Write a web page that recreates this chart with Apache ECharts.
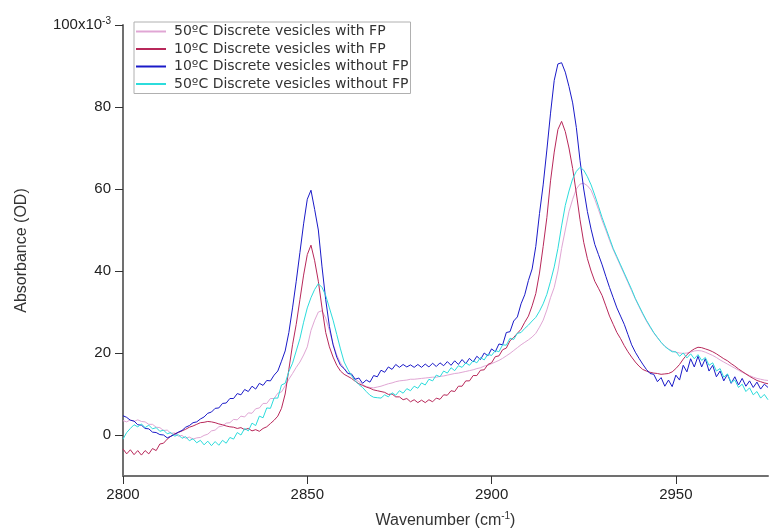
<!DOCTYPE html>
<html><head><meta charset="utf-8">
<script src="https://cdn.jsdelivr.net/npm/echarts@6/dist/echarts.min.js"></script>
<style>html,body{margin:0;padding:0;background:#fff}#c{width:769px;height:529px}</style>
</head><body><div id="c"></div>
<script>
// Wavenumber sampling: 2800 .. 2975 cm-1, 1 cm-1 step
const waveStart = 2800;
const waveStep = 1;

const seriesNames = [
  '50ºC Discrete vesicles with FP',
  '10ºC Discrete vesicles with FP',
  '10ºC Discrete vesicles without FP',
  '50ºC Discrete vesicles without FP'
];

// Absorbance values in units of 10^-3 OD
const pink50With = [
  3.5, 3.2, 3.7, 3.3, 3.7, 3.3, 3.2, 2.6, 2.6, 1.9,
  1.8, 1.1, 1.2, 0.4, 0.5, -0.3, -0.1, -0.8, -0.5, -1.0,
  -0.7, -0.6, -0.1, 0.2, 1.0, 1.2, 2.0, 2.2, 2.9, 3.0,
  3.8, 3.7, 4.6, 4.4, 5.4, 5.3, 6.4, 6.6, 7.7, 7.7,
  8.9, 8.9, 10.2, 10.5, 12.0, 13.6, 15.0, 16.5, 17.8, 19.5,
  21.5, 25.5, 28.0, 30.0, 30.3, 28.5, 25.5, 22.2, 19.5, 17.6,
  16.2, 15.2, 14.5, 13.6, 13.0, 12.3, 11.8, 11.6, 11.5, 11.7,
  11.9, 12.2, 12.5, 12.7, 13.0, 13.2, 13.3, 13.4, 13.6, 13.6,
  13.7, 13.8, 13.9, 14.0, 14.1, 14.1, 14.3, 14.4, 14.6, 14.8,
  15.0, 15.1, 15.3, 15.5, 15.7, 15.9, 16.2, 16.4, 16.8, 17.0,
  17.4, 17.8, 18.2, 18.7, 19.3, 19.9, 20.6, 21.3, 22.0, 22.6,
  23.2, 23.9, 24.8, 26.3, 28.0, 30.5, 33.5, 36.0, 40.0, 45.5,
  50.0, 54.5, 57.5, 60.0, 61.2, 61.4, 60.8, 59.7, 57.5, 55.0,
  52.3, 50.0, 47.5, 45.2, 43.2, 41.2, 39.2, 37.2, 35.2, 33.2,
  31.3, 29.5, 27.8, 26.3, 24.9, 23.7, 22.6, 21.7, 21.0, 20.5,
  20.2, 20.0, 19.9, 20.0, 20.2, 20.5, 20.6, 20.5, 20.2, 19.8,
  19.4, 18.9, 18.3, 17.8, 17.3, 16.8, 16.3, 15.8, 15.3, 14.9,
  14.5, 14.1, 13.8, 13.6, 13.4, 13.3
];

const red10With = [
  -3.4, -4.6, -3.6, -4.8, -3.8, -4.9, -3.8, -4.6, -3.3, -3.8,
  -2.2, -2.0, -1.0, -0.3, 0.3, 0.6, 1.0, 1.4, 1.9, 2.2,
  2.6, 3.0, 3.1, 3.3, 3.2, 3.0, 2.7, 2.5, 2.2, 2.0,
  1.9, 1.6, 1.8, 1.3, 1.6, 1.0, 1.3, 0.9, 1.6, 2.0,
  2.8, 3.6, 4.6, 6.5, 10.0, 16.0, 22.0, 27.0, 33.0, 39.0,
  44.0, 46.3, 42.5, 37.5, 31.0, 25.0, 21.5, 19.0, 17.0, 15.6,
  14.8, 14.3, 13.8, 13.1, 12.5, 12.1, 11.7, 11.4, 11.0, 10.8,
  10.6, 10.4, 9.9, 10.0, 9.3, 9.3, 8.6, 8.9, 8.1, 8.6,
  7.9, 8.5, 7.9, 8.6, 8.1, 9.0, 8.7, 9.8, 9.7, 10.8,
  10.6, 11.9, 11.9, 13.2, 13.2, 14.5, 14.5, 15.8, 15.9, 17.2,
  17.6, 19.1, 19.3, 20.8, 21.2, 23.0, 23.8, 24.8, 25.8, 27.5,
  29.0, 31.5, 34.5, 39.5, 46.0, 53.0, 62.0, 69.0, 74.5, 76.5,
  74.0, 70.0, 65.0, 59.0, 52.5, 47.0, 43.0, 40.0, 37.5, 35.8,
  34.0, 31.5, 29.0, 27.0, 25.0, 23.5, 21.8, 20.3, 19.0, 17.8,
  16.8, 16.0, 15.6, 15.3, 15.1, 15.0, 14.8, 14.9, 15.0, 15.4,
  16.2, 17.2, 18.5, 19.6, 20.4, 21.0, 21.4, 21.3, 21.0, 20.7,
  20.3, 19.8, 19.2, 18.6, 18.1, 17.4, 16.8, 16.1, 15.5, 14.9,
  14.3, 13.8, 13.3, 13.0, 12.7, 12.5
];

const blue10Without = [
  4.7, 4.3, 3.6, 3.4, 2.5, 2.4, 1.6, 1.5, 0.7, 0.6,
  0.1, 0.0, -0.7, -0.3, 0.1, 0.7, 1.1, 1.9, 2.3, 3.0,
  3.2, 3.9, 4.4, 5.3, 5.6, 6.5, 6.6, 7.7, 7.8, 8.9,
  8.9, 10.1, 9.8, 11.1, 10.6, 11.9, 11.2, 12.6, 12.1, 13.3,
  13.2, 14.6, 15.6, 18.0, 20.5, 25.0, 31.0, 37.5, 44.5, 51.5,
  57.5, 59.7, 55.0, 50.0, 41.0, 33.0, 26.5, 22.0, 19.0, 17.0,
  16.2, 15.0, 14.9, 13.6, 13.9, 12.6, 13.4, 12.9, 14.5, 14.2,
  15.8, 15.3, 16.6, 16.0, 17.2, 16.5, 17.2, 16.6, 17.1, 16.5,
  17.2, 16.5, 17.3, 16.6, 17.5, 16.7, 17.6, 16.9, 17.9, 17.0,
  18.1, 17.2, 18.4, 17.4, 18.7, 17.8, 19.2, 18.4, 20.0, 19.3,
  21.0, 20.3, 22.2, 22.0, 25.0, 25.2, 27.8, 28.8, 32.0, 34.2,
  37.7, 40.5, 46.0, 54.0, 61.0, 69.5, 78.5, 86.5, 90.5, 90.8,
  88.5, 85.0, 81.0, 75.0, 67.0, 60.0, 54.5, 50.2, 46.5, 44.0,
  41.5, 38.7, 36.0, 33.5, 31.0, 29.0, 27.0, 24.5, 22.0, 20.2,
  18.7, 17.3, 16.0, 15.0, 14.8, 13.0, 14.0, 11.9, 13.4, 11.8,
  14.6, 13.4, 17.0, 15.4, 18.6, 16.6, 19.2, 16.6, 18.6, 15.6,
  17.0, 14.2, 15.6, 13.2, 14.8, 12.6, 14.2, 12.2, 13.8, 11.9,
  13.2, 11.6, 12.9, 11.2, 12.4, 11.6
];

const cyan50Without = [
  -1.0, 0.6, 1.6, 2.5, 2.0, 2.7, 1.8, 2.4, 1.5, 1.8,
  0.9, 1.2, 0.3, 0.6, -0.3, 0.1, -0.8, -0.4, -1.4, -0.9,
  -1.9, -1.3, -2.4, -1.5, -2.6, -1.6, -2.5, -1.3, -2.0, -0.6,
  -1.0, 0.6, 0.0, 1.6, 1.0, 2.9, 2.3, 4.6, 4.2, 6.6,
  6.5, 9.0, 9.0, 12.2, 12.6, 15.5, 17.5, 20.5, 23.5, 27.5,
  31.0, 33.5, 35.5, 36.9, 36.0, 34.0, 31.0, 28.0, 24.5, 21.0,
  17.8, 16.0, 14.5, 13.2, 12.3, 11.6, 10.6, 9.7, 9.2, 9.1,
  9.0, 9.8, 9.3, 10.3, 9.7, 10.8, 10.2, 11.3, 10.8, 11.9,
  11.4, 12.7, 12.2, 13.6, 13.2, 14.6, 14.2, 15.6, 15.1, 16.4,
  15.7, 16.9, 16.5, 17.6, 17.0, 18.1, 17.6, 18.9, 18.3, 19.7,
  19.4, 20.6, 20.3, 22.0, 21.9, 23.6, 23.3, 24.8, 25.0, 26.0,
  26.8, 27.8, 28.7, 30.2, 32.0, 34.3, 37.5, 41.0, 45.5, 51.0,
  56.0, 59.5, 62.5, 64.3, 65.3, 64.6, 63.0, 61.0, 58.5, 55.8,
  53.0, 50.5, 48.0, 45.5, 43.5, 41.5, 39.5, 37.5, 35.5, 33.3,
  31.5, 29.7, 28.0, 26.5, 25.0, 23.8, 22.6, 21.6, 20.9, 20.3,
  20.3, 19.2, 20.0, 18.8, 19.8, 18.6, 19.6, 18.2, 18.9, 17.0,
  17.6, 15.6, 16.2, 14.1, 14.9, 12.8, 13.4, 11.6, 12.4, 10.6,
  11.5, 9.8, 10.6, 9.0, 9.9, 8.6
];

const xTicks = [2800, 2850, 2900, 2950];
const yTicks = [0, 20, 40, 60, 80, 100];

const seriesValues = [pink50With, red10With, blue10Without, cyan50Without];
const seriesColors = ['#e0a6d4', '#b8285a', '#1a1ac8', '#2cdcdc'];

function toPairs(vals) {
  return vals.map((v, i) => [waveStart + i * waveStep, v]);
}

const chart = echarts.init(document.getElementById('c'), null, { renderer: 'canvas' });
const font = 'Liberation Sans, Arial, Helvetica, sans-serif';

chart.setOption({
  animation: false,
  backgroundColor: '#ffffff',
  grid: { left: 123, right: 1, top: 25, bottom: 53, containLabel: false, outerBoundsMode: 'none' },
  legend: {
    orient: 'vertical',
    left: 134, top: 22,
    padding: [1, 2, 1, 2],
    itemGap: 0.5,
    itemWidth: 30, itemHeight: 2,
    icon: 'rect',
    borderColor: '#b0b0b0', borderWidth: 1,
    backgroundColor: '#ffffff',
    textStyle: { fontFamily: 'DejaVu Sans, sans-serif', fontSize: 14, color: '#333', lineHeight: 17, padding: [0, 0, 0, 3] },
    data: seriesNames
  },
  xAxis: {
    type: 'value', min: 2800, max: 2975,
    name: '{b|Wavenumber (cm}{s|-1}{b|)}',
    nameLocation: 'middle', nameGap: 35,
    nameTextStyle: {
      fontFamily: font, fontSize: 16, color: '#333',
      rich: {
        b: { fontFamily: font, fontSize: 16, color: '#333', lineHeight: 20 },
        s: { fontFamily: font, fontSize: 10, color: '#333', verticalAlign: 'top', lineHeight: 10 }
      }
    },
    axisLine: { onZero: false, lineStyle: { color: '#707070', width: 2 } },
    axisTick: { show: true, inside: false, length: 8, customValues: xTicks, lineStyle: { color: '#333', width: 1 } },
    axisLabel: {
      customValues: xTicks, margin: 11, fontFamily: font, fontSize: 15, color: '#222',
      formatter: function (v) { return String(v); }
    },
    splitLine: { show: false }
  },
  yAxis: {
    type: 'value', min: -10, max: 100,
    name: 'Absorbance (OD)',
    nameLocation: 'middle', nameGap: 93, nameRotate: 90,
    nameTextStyle: { fontFamily: font, fontSize: 16, color: '#333' },
    axisLine: { show: true, onZero: false, lineStyle: { color: '#707070', width: 2 } },
    axisTick: { show: true, inside: false, length: 8, customValues: yTicks, lineStyle: { color: '#333', width: 1 } },
    axisLabel: {
      customValues: yTicks, margin: 12, fontFamily: font, fontSize: 15, color: '#222',
      formatter: function (v) { return v === 100 ? '{b|100x10}{s|-3}' : String(v); },
      rich: {
        b: { fontFamily: font, fontSize: 15, color: '#222', lineHeight: 18 },
        s: { fontFamily: font, fontSize: 10, color: '#222', verticalAlign: 'top', lineHeight: 10 }
      }
    },
    splitLine: { show: false }
  },
  series: seriesNames.map((name, k) => ({
    name: name,
    type: 'line',
    data: toPairs(seriesValues[k]),
    showSymbol: false,
    symbol: 'none',
    lineStyle: { width: 1, color: seriesColors[k] },
    itemStyle: { color: seriesColors[k] },
    emphasis: { disabled: true }
  }))
});
</script>
</body></html>
